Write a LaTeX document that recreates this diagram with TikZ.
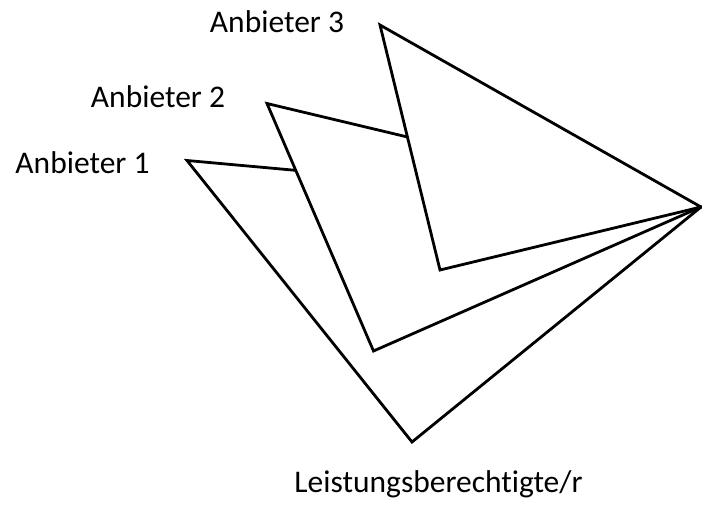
\documentclass[tikz,border=0pt]{standalone}
\usepackage{fontspec}
\setmainfont[Ligatures=NoCommon]{Carlito}
\begin{document}
\begin{tikzpicture}[x=1pt,y=-1pt,
  sheet/.style={draw=black,fill=white,line width=2.8pt,line join=miter},
  label/.style={anchor=base,inner sep=0pt,font=\fontsize{31.5}{37}\selectfont}]
\useasboundingbox (0,0) rectangle (702,509);
% common vertex on the right
\coordinate (tip) at (701,207);
% three overlapping sheets, back to front
\coordinate (a1) at (187,160.5);
\coordinate (b1) at (412,442);
\coordinate (a2) at (267,103.5);
\coordinate (b2) at (373.5,351);
\coordinate (a3) at (380,25);
\coordinate (b3) at (440,270);
\draw[sheet] (a1) -- (tip) -- (b1) -- cycle;
\draw[sheet] (a2) -- (tip) -- (b2) -- cycle;
\draw[sheet] (a3) -- (tip) -- (b3) -- cycle;
% labels
\node[label] (l1) at (82.5,173) {Anbieter 1};
\node[label] (l2) at (158,107) {Anbieter 2};
\node[label] (l3) at (277,32) {Anbieter 3};
\node[label] (lb) at (438.5,492) {Leistungsberechtigte/r};
\end{tikzpicture}
\end{document}
